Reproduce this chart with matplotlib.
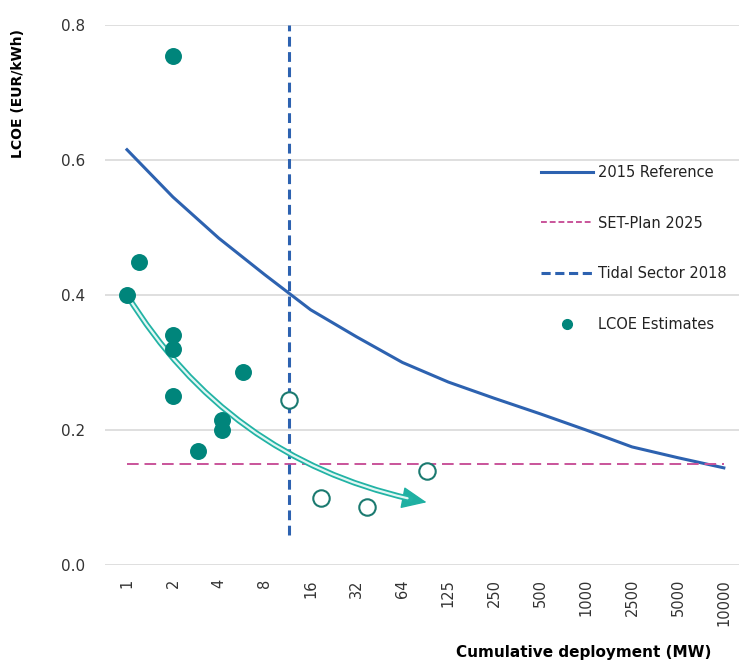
import numpy as np
import matplotlib
matplotlib.use('Agg')
import matplotlib.pyplot as plt
from matplotlib.lines import Line2D

# categories on the x axis (cumulative deployment, MW)
ticks_mw = [1, 2, 4, 8, 16, 32, 64, 125, 250, 500, 1000, 2500, 5000, 10000]

# 2015 reference learning curve (one value per category)
ref_2015 = [0.615, 0.545, 0.484, 0.430, 0.378, 0.338, 0.300, 0.271,
            0.247, 0.224, 0.200, 0.175, 0.159, 0.144]

set_plan_2025 = 0.15
tidal_sector_2018_mw = 11.5

# LCOE estimates (filled)
est_mw = [2, 1.2, 1, 2, 2, 5.8, 2, 4.2, 4.2, 2.9]
est_lcoe = [0.753, 0.449, 0.400, 0.341, 0.320, 0.286, 0.250, 0.215, 0.200, 0.169]

# projected estimates (open)
proj_mw = [11.5, 18.8, 37.5, 91]
proj_lcoe = [0.244, 0.099, 0.086, 0.139]

# arrow trend: start / end
trend_mw = [1, 91]
trend_lcoe = [0.400, 0.093]

idx = np.arange(len(ticks_mw))


def pos(mw):
    # map MW to position on the categorical axis (log interpolation)
    return np.interp(np.log(mw), np.log(ticks_mw), idx)


fig = plt.figure(figsize=(7.39, 6.68), dpi=100)
ax = fig.add_axes([0.142, 0.154, 0.858, 0.809])

blue = '#2d62b0'
teal = '#00857b'
pink = '#c9549a'

ax.set_ylim(0, 0.8)
ax.set_xlim(-0.48, 13.33)
ax.set_yticks([0.0, 0.2, 0.4, 0.6, 0.8])
ax.set_yticklabels(['0.0', '0.2', '0.4', '0.6', '0.8'])
ax.set_xticks(idx)
ax.set_xticklabels([str(t) for t in ticks_mw], rotation=90)
ax.tick_params(length=0, labelsize=11, colors='#333333')
ax.tick_params(axis='x', pad=10, labelsize=10.5)
ax.tick_params(axis='y', pad=14)
ax.grid(axis='y', color='#d9d9d9', lw=1.2)
ax.set_axisbelow(True)
for s in ax.spines.values():
    s.set_visible(False)

ax.plot(idx, ref_2015, color=blue, lw=2.2, zorder=3, solid_joinstyle='round')
ax.plot([idx[0], idx[-1]], [set_plan_2025, set_plan_2025], color=pink,
        lw=1.4, ls=(0, (6, 3)), zorder=3)
tx = pos(tidal_sector_2018_mw)
ax.plot([tx, tx], [0.045, 0.8], color=blue, lw=2.2, ls=(0, (3.2, 1.8)), zorder=3)

# trend arrow (double line shaft + solid head)
p0 = (pos(trend_mw[0]), trend_lcoe[0])
p1 = (pos(trend_mw[1]), trend_lcoe[1])
rad = 'arc3,rad=0.22'
ax.annotate('', xy=p1, xytext=p0,
            arrowprops=dict(arrowstyle='-|>,head_length=0.8,head_width=0.35',
                            mutation_scale=20, connectionstyle=rad,
                            color='#1fb0a2', lw=1, shrinkA=0, shrinkB=0),
            zorder=4)
ax.annotate('', xy=p1, xytext=p0,
            arrowprops=dict(arrowstyle='-', connectionstyle=rad,
                            color='#22b3a5', lw=4.2, shrinkA=0, shrinkB=12),
            zorder=4)
ax.annotate('', xy=p1, xytext=p0,
            arrowprops=dict(arrowstyle='-', connectionstyle=rad,
                            color='#e2f7f4', lw=1.6, shrinkA=0, shrinkB=14),
            zorder=4)

ax.scatter(pos(est_mw), est_lcoe, s=125, color=teal, zorder=5)
ax.scatter(pos(proj_mw), proj_lcoe, s=140, facecolor='white',
           edgecolor='#1b7a70', lw=1.5, zorder=5)

handles = [
    Line2D([], [], color=blue, lw=2.2),
    Line2D([], [], color=pink, lw=1.4, ls=(0, (3, 1.5))),
    Line2D([], [], color=blue, lw=2.2, ls=(0, (3, 1.5))),
    Line2D([], [], color=teal, marker='o', ls='', markersize=7),
]
labels = ['2015 Reference', 'SET-Plan 2025', 'Tidal Sector 2018', 'LCOE Estimates']
ax.legend(handles, labels, loc='upper left', bbox_to_anchor=(0.667, 0.765),
          frameon=False, fontsize=10.5, labelspacing=2.45, handlelength=3.6,
          handletextpad=0.3, labelcolor='#222222')

fig.text(0.024, 0.86, 'LCOE (EUR/kWh)', rotation=90, ha='center', va='center',
         fontsize=10, fontweight='bold')
fig.text(0.79, 0.012, 'Cumulative deployment (MW)', ha='center', va='bottom',
         fontsize=11, fontweight='bold')

fig.savefig('out.png', dpi=100)
